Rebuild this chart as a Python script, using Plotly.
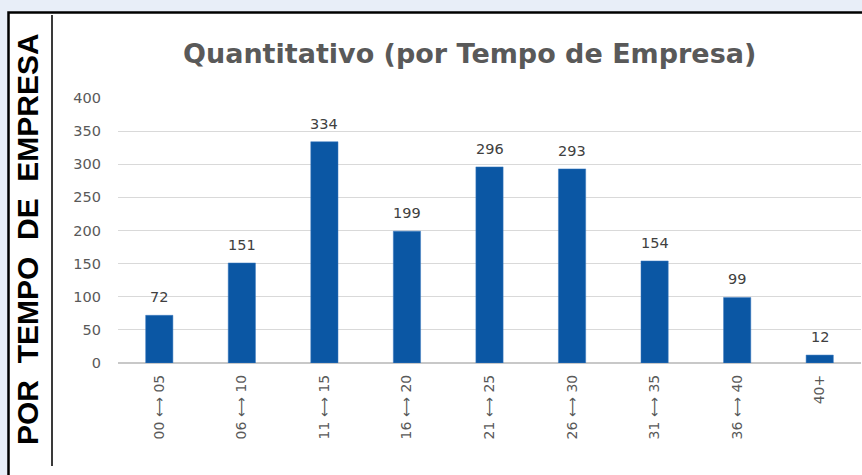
import plotly.graph_objects as go

categories = ["00 ⟷ 05", "06 ⟷ 10", "11 ⟷ 15", "16 ⟷ 20", "21 ⟷ 25",
              "26 ⟷ 30", "31 ⟷ 35", "36 ⟷ 40", "40+"]
values = [72, 151, 334, 199, 296, 293, 154, 99, 12]
y_ticks = [0, 50, 100, 150, 200, 250, 300, 350, 400]
title_text = "Quantitativo (por Tempo de Empresa)"
side_text = "POR  TEMPO  DE  EMPRESA"

W, H = 862, 475
L, R, T, B = 118, 1, 98, 112
PW, PH = W - L - R, H - T - B


def px_x(x):
    return (x - L) / PW


def px_y(y):
    return (H - B - y) / PH


fig = go.Figure()
fig.add_trace(go.Bar(
    x=categories, y=values,
    marker=dict(color="#0B57A4", line=dict(color="#3C7BC0", width=0.5)),
    width=0.33,
    hoverinfo="x+y",
))

annotations = []
for c, v in zip(categories, values):
    annotations.append(dict(
        x=c, y=v, xref="x", yref="y", text=str(v), showarrow=False,
        yanchor="bottom", yshift=8,
        font=dict(family="DejaVu Sans", size=14.5, color="#404040"),
    ))

annotations.append(dict(
    x=px_x(469), y=px_y(53), xref="paper", yref="paper", text=title_text,
    showarrow=False, xanchor="center", yanchor="middle",
    font=dict(family="DejaVu Sans", size=27, color="#595959", weight="bold"),
))
annotations.append(dict(
    x=px_x(27), y=px_y(239), xref="paper", yref="paper", text=side_text,
    showarrow=False, textangle=-90, xanchor="center", yanchor="middle",
    font=dict(family="Liberation Sans", size=30, color="#000000", weight="bold"),
))

shapes = [
    # white panel with black border
    dict(type="rect", xref="paper", yref="paper", layer="below",
         x0=px_x(8.5), x1=px_x(900), y0=px_y(12.5), y1=px_y(520),
         fillcolor="white", line=dict(color="black", width=2.5)),
    # vertical separator
    dict(type="line", xref="paper", yref="paper",
         x0=px_x(52), x1=px_x(52), y0=px_y(15), y1=px_y(466),
         line=dict(color="#3a3a3a", width=2)),
]

fig.update_layout(
    width=W, height=H,
    margin=dict(l=L, r=R, t=T, b=B, pad=0),
    paper_bgcolor="#E8EEF8",
    plot_bgcolor="rgba(0,0,0,0)",
    showlegend=False,
    bargap=0.67,
    annotations=annotations,
    shapes=shapes,
    xaxis=dict(
        type="category", tickangle=-90,
        tickfont=dict(family="DejaVu Sans", size=14, color="#595959"),
        showgrid=False, showline=False, ticks="",
        ticklabelstandoff=8,
    ),
    yaxis=dict(
        range=[0, 400], tickvals=y_ticks,
        tickfont=dict(family="DejaVu Sans", size=14.5, color="#595959"),
        showgrid=True, gridcolor="#D9D9D9", gridwidth=1,
        zeroline=True, zerolinecolor="#C8C8C8", zerolinewidth=1.5,
        showline=False, ticks="", ticklabelstandoff=16,
    ),
)

fig.write_html(
    "out.html",
    config={"displayModeBar": False},
    post_script="document.body.style.margin='0px';"
                "document.body.style.background='#E8EEF8';",
)
